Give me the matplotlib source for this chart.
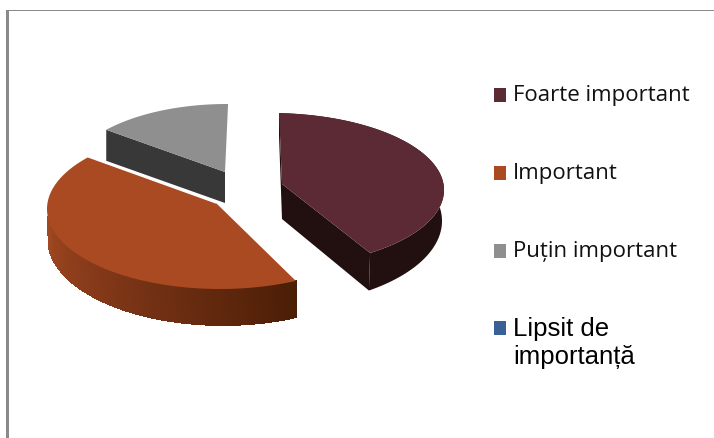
import numpy as np
import matplotlib
matplotlib.use("Agg")
import matplotlib.pyplot as plt
from matplotlib.patches import Polygon, Rectangle
from matplotlib.colors import LinearSegmentedColormap

# shares
labels = ["Foarte important", "Important", "Puțin important", "Lipsit de\nimportanță"]
values = [40.8, 45.0, 14.2, 0]
top_colors = ["#5c2a35", "#aa4a22", "#8f8f8f", "#3a6096"]
wall_colors = ["#220f10", "#4a1e06", "#383838", "#3a6096"]

# the 3D view eats part of the circle
sweep_scale = 0.966
start_angles = [3, 154, 311]
centers = [(270, 191), (220, 210), (227, 180)]
apexes = [(282, 185), (216, 204), (225, 173)]
radii = [(174, 77), (173, 80), (160, 75)]
depths = [35, 36, 31]
# lower rim of each slice: its own centre and radii
low_centers = [(270, 222), (223, 240), (227, 211)]
low_radii = [(172, 85), (175, 86), (160, 75)]


def arc(center, radius, a0, a1, n=120):
    t = np.radians(np.linspace(a0, a1, n))
    return np.column_stack([center[0] + radius[0] * np.sin(t), center[1] - radius[1] * np.cos(t)])


def down(points, d):
    return points + np.array([0, d])


fig = plt.figure(figsize=(7.14, 4.39), dpi=100)
ax = fig.add_axes([0, 0, 1, 1])
ax.set_xlim(0, 714)
ax.set_ylim(439, 0)
ax.axis("off")

# chart frame, only left and top are visible
ax.add_patch(Rectangle((6, 11), 3, 428, color="#8a8a8a", lw=0))
ax.add_patch(Rectangle((6, 11), 708, 1.4, color="#8a8a8a", lw=0))

sweeps = [v * 3.6 * sweep_scale for v in values]
cmap = LinearSegmentedColormap.from_list("wall", ["#4a1e06", "#7a3416", "#a54a22"])

# grey slice first, it sits behind the orange one
for i in [2, 0, 1]:
    a0 = start_angles[i]
    a1 = a0 + sweeps[i]
    edge = arc(centers[i], radii[i], a0, a1)
    low = arc(low_centers[i], low_radii[i], a0, a1)
    apex = np.array([apexes[i]], dtype=float)
    d = depths[i]

    # flat cut faces, which ones show depends on the slice
    if i == 0:
        cuts = [(edge[:1], low[:1]), (edge[-1:], low[-1:])]
    elif i == 2:
        cuts = [(edge[:1], low[:1])]
    else:
        cuts = []
    for p, q in cuts:
        face = np.vstack([apex, p, q, down(apex, d)])
        ax.add_patch(Polygon(face, closed=True, color=wall_colors[i], lw=0))

    # outer wall
    if i == 1:
        # orange goes dark towards the right, cut off straight at the right end
        low[:, 0] = np.minimum(low[:, 0], edge[0, 0])
        for k in range(len(edge) - 1):
            quad = np.vstack([edge[k:k + 2], low[k:k + 2][::-1]])
            c = cmap(min(1.0, (k / (len(edge) - 1)) * 1.35))
            if edge[k, 1] > centers[i][1] + 8:
                ax.add_patch(Polygon(quad, closed=True, facecolor=c, edgecolor=c, lw=0.6,
                                     antialiased=False))
    elif i == 0:
        ax.add_patch(Polygon(np.vstack([edge, low[::-1]]), closed=True,
                             color=wall_colors[i], lw=0))

    top = np.vstack([apex, edge])
    ax.add_patch(Polygon(top, closed=True, color=top_colors[i], lw=0))
    if i == 1:
        # thin white seam against the grey slice
        seam = np.vstack([edge[-1:], apex])
        ax.plot(seam[:, 0], seam[:, 1], color="white", lw=0.9)

# legend
legend_y = [96, 174, 252, 343]
box_y = [89, 167, 245, 322]
for i, name in enumerate(labels):
    ax.add_patch(Rectangle((494, box_y[i]), 12, 14, color=top_colors[i], lw=0))
    if i < 3:
        ax.text(513, legend_y[i], name, va="center", ha="left", fontsize=16,
                family=["Open Sans", "DejaVu Sans"], color="#111111")
    else:
        ax.text(513, legend_y[i], name, va="center", ha="left", fontsize=18.5,
                family=["Liberation Sans", "DejaVu Sans"], color="black", linespacing=1.2)

fig.savefig("out.png", dpi=100)
